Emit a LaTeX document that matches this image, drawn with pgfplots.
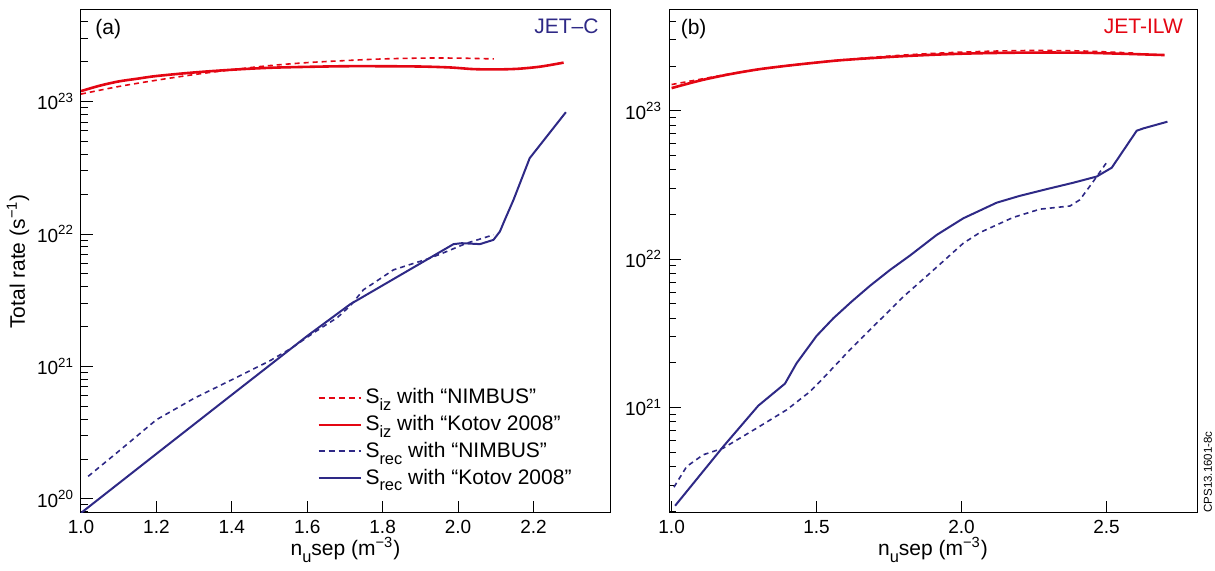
\documentclass[border=0pt]{standalone}
\usepackage{fontspec}
\setmainfont{Liberation Sans}
\usepackage{pgfplots}
\pgfplotsset{compat=1.18}
\definecolor{jetred}{RGB}{228,6,19}
\definecolor{jetblue}{RGB}{46,41,134}
\newcommand{\sub}[1]{\raisebox{-0.6ex}{\fontsize{8.2}{8.2}\selectfont #1}}
\begin{document}
\begin{tikzpicture}
\path[use as bounding box] (0,0) rectangle (607.5pt,285pt);
% ---------------- (a) JET-C ----------------
\begin{axis}[name=L,
  scale only axis, height=251.5pt, width=264.5pt,
  at={(40.5pt,28.5pt)}, anchor=south west,
  ymode=log,
  xtick pos=bottom, ytick pos=left,
  tick align=inside,
  major tick length=6pt, minor tick length=3.5pt,
  tick style={black, line width=0.5pt},
  axis line style={line width=0.5pt},
  xticklabel style={font=\fontsize{9.5}{11}\selectfont},
  yticklabel style={font=\fontsize{9.5}{11}\selectfont},
  xlabel={n\sub{u}sep (m\textsuperscript{−3})},
  xlabel style={at={(axis description cs:0.5,-0.074)}, anchor=center, font=\fontsize{10.5}{12}\selectfont},
  xmin=1.0, xmax=2.403, ymin=7.83e19, ymax=4.92e23,
  xtick={1.0,1.2,1.4,1.6,1.8,2.0,2.2},
  xticklabels={1.0,1.2,1.4,1.6,1.8,2.0,2.2},
  ytick={1e20,1e21,1e22,1e23},
  yticklabels={10\textsuperscript{20},10\textsuperscript{21},10\textsuperscript{22},10\textsuperscript{23}},
  minor ytick={8e19,9e19,2e20,3e20,4e20,5e20,6e20,7e20,8e20,9e20,2e21,3e21,4e21,5e21,6e21,7e21,8e21,9e21,2e22,3e22,4e22,5e22,6e22,7e22,8e22,9e22,2e23,3e23,4e23},
  ylabel={Total rate (s\textsuperscript{−1})},
  ylabel style={at={(axis description cs:-0.119,0.5)}, anchor=center, font=\fontsize{10.5}{12}\selectfont},
  legend cell align=left,
  legend image code/.code={\draw[#1] (0pt,0pt) -- (21pt,0pt);},
  legend style={draw=none, fill=none, at={(axis description cs:0.435,0.264)}, anchor=north west,
    font=\fontsize{10.5}{12}\selectfont, row sep=0.3pt},
]
\addlegendimage{color=jetred, line width=1pt, dash pattern=on 3pt off 2pt}
\addlegendentry{S\sub{iz} with “NIMBUS”}
\addlegendimage{color=jetred, line width=1pt}
\addlegendentry{S\sub{iz} with “Kotov 2008”}
\addlegendimage{color=jetblue, line width=1pt, dash pattern=on 3pt off 2pt}
\addlegendentry{S\sub{rec} with “NIMBUS”}
\addlegendimage{color=jetblue, line width=1pt}
\addlegendentry{S\sub{rec} with “Kotov 2008”}
\addplot[forget plot, draw=jetred, line width=0.8pt, dash pattern=on 2.5pt off 2pt, smooth] coordinates {
(1.0,1.14e23) (1.1,1.30e23) (1.2,1.45e23) (1.3,1.60e23) (1.4,1.74e23) (1.5,1.87e23)
(1.6,1.97e23) (1.7,2.04e23) (1.8,2.10e23) (1.9,2.13e23) (2.0,2.13e23) (2.095,2.10e23)};
\addplot[forget plot, draw=jetred, line width=1.3pt, smooth] coordinates {
(1.0,1.20e23) (1.05,1.32e23) (1.1,1.42e23) (1.15,1.49e23) (1.2,1.56e23) (1.3,1.66e23)
(1.4,1.74e23) (1.5,1.80e23) (1.6,1.83e23) (1.7,1.85e23) (1.8,1.85e23) (1.9,1.84e23)
(1.98,1.81e23) (2.04,1.76e23) (2.1,1.75e23) (2.16,1.77e23) (2.22,1.84e23) (2.28,1.97e23)};
\addplot[forget plot, draw=jetblue, line width=0.8pt, dash pattern=on 2.5pt off 2pt] coordinates {
(1.019,1.48e20) (1.1,2.29e20) (1.2,3.96e20) (1.3,5.75e20) (1.4,7.94e20) (1.5,1.10e21)
(1.559,1.38e21) (1.62,1.82e21) (1.68,2.34e21) (1.714,2.87e21) (1.749,3.79e21) (1.829,5.37e21)
(1.926,6.58e21) (1.97,7.38e21) (2.023,8.53e21) (2.094,9.86e21)};
\addplot[forget plot, draw=jetblue, line width=1pt] coordinates {
(1.0,7.83e19) (1.2,2.19e20) (1.4,6.11e20) (1.6,1.70e21) (1.714,2.95e21) (1.988,8.39e21)
(2.01,8.53e21) (2.058,8.39e21) (2.094,9.04e21) (2.111,1.045e22) (2.124,1.28e22)
(2.147,1.81e22) (2.19,3.74e22) (2.286,8.32e22)};
\node[anchor=west, inner sep=0pt, font=\fontsize{10.5}{12}\selectfont] at (axis description cs:0.0265,0.962) {(a)};
\node[anchor=east, inner sep=0pt, font=\fontsize{10.5}{12}\selectfont, text=jetblue] at (axis description cs:0.979,0.967) {JET–C};
\end{axis}
% ---------------- (b) JET-ILW ----------------
\begin{axis}[name=R,
  scale only axis, height=251.5pt, width=264pt,
  at={(334.5pt,28.5pt)}, anchor=south west,
  ymode=log,
  xtick pos=bottom, ytick pos=left,
  tick align=inside,
  major tick length=6pt, minor tick length=3.5pt,
  tick style={black, line width=0.5pt},
  axis line style={line width=0.5pt},
  xticklabel style={font=\fontsize{9.5}{11}\selectfont},
  yticklabel style={font=\fontsize{9.5}{11}\selectfont},
  xlabel={n\sub{u}sep (m\textsuperscript{−3})},
  xlabel style={at={(axis description cs:0.5,-0.074)}, anchor=center, font=\fontsize{10.5}{12}\selectfont},
  xmin=0.991, xmax=2.812, ymin=1.95e20, ymax=4.77e23,
  xtick={1.0,1.5,2.0,2.5},
  xticklabels={1.0,1.5,2.0,2.5},
  ytick={1e21,1e22,1e23},
  yticklabels={10\textsuperscript{21},10\textsuperscript{22},10\textsuperscript{23}},
  minor ytick={2e20,3e20,4e20,5e20,6e20,7e20,8e20,9e20,2e21,3e21,4e21,5e21,6e21,7e21,8e21,9e21,2e22,3e22,4e22,5e22,6e22,7e22,8e22,9e22,2e23,3e23,4e23},
]
\addplot[draw=jetred, line width=0.8pt, dash pattern=on 2.5pt off 2pt, smooth] coordinates {
(1.0,1.50e23) (1.1,1.63e23) (1.2,1.77e23) (1.3,1.90e23) (1.4,2.01e23) (1.5,2.11e23)
(1.6,2.21e23) (1.8,2.37e23) (2.0,2.48e23) (2.2,2.54e23) (2.4,2.53e23) (2.6,2.44e23)};
\addplot[draw=jetred, line width=1.3pt, smooth] coordinates {
(1.0,1.42e23) (1.1,1.60e23) (1.2,1.76e23) (1.3,1.90e23) (1.4,2.01e23) (1.5,2.11e23)
(1.6,2.20e23) (1.8,2.33e23) (2.0,2.42e23) (2.2,2.46e23) (2.4,2.46e23) (2.55,2.42e23) (2.70,2.37e23)};
\addplot[draw=jetblue, line width=0.8pt, dash pattern=on 2.5pt off 2pt] coordinates {
(1.008,2.91e20) (1.052,4.01e20) (1.109,4.81e20) (1.178,5.33e20) (1.293,7.26e20) (1.397,9.66e20)
(1.477,1.28e21) (1.523,1.58e21) (1.615,2.45e21) (1.707,3.70e21) (1.799,5.58e21) (1.891,8.04e21)
(2.006,1.28e22) (2.063,1.51e22) (2.178,1.91e22) (2.27,2.17e22) (2.374,2.28e22) (2.408,2.51e22)
(2.454,3.33e22) (2.5,4.47e22)};
\addplot[draw=jetblue, line width=1pt] coordinates {
(1.012,2.18e20) (1.178,5.46e20) (1.299,1.03e21) (1.391,1.45e21) (1.431,1.99e21) (1.5,3.04e21)
(1.558,4.00e21) (1.621,5.18e21) (1.684,6.61e21) (1.753,8.45e21) (1.822,1.057e22) (1.914,1.455e22)
(2.006,1.884e22) (2.121,2.40e22) (2.201,2.67e22) (2.293,2.96e22) (2.385,3.27e22) (2.466,3.60e22)
(2.518,4.13e22) (2.604,7.33e22) (2.627,7.60e22) (2.71,8.43e22)};
\node[anchor=west, inner sep=0pt, font=\fontsize{10.5}{12}\selectfont] at (axis description cs:0.0216,0.962) {(b)};
\node[anchor=east, inner sep=0pt, font=\fontsize{10.5}{12}\selectfont, text=jetred] at (axis description cs:0.974,0.968) {JET-ILW};
\end{axis}
\node[rotate=90, anchor=west, inner sep=0pt, font=\fontsize{5.75}{6}\selectfont] at ([xshift=5.5pt]R.south east) {CPS13.1601-8c};
\end{tikzpicture}
\end{document}
